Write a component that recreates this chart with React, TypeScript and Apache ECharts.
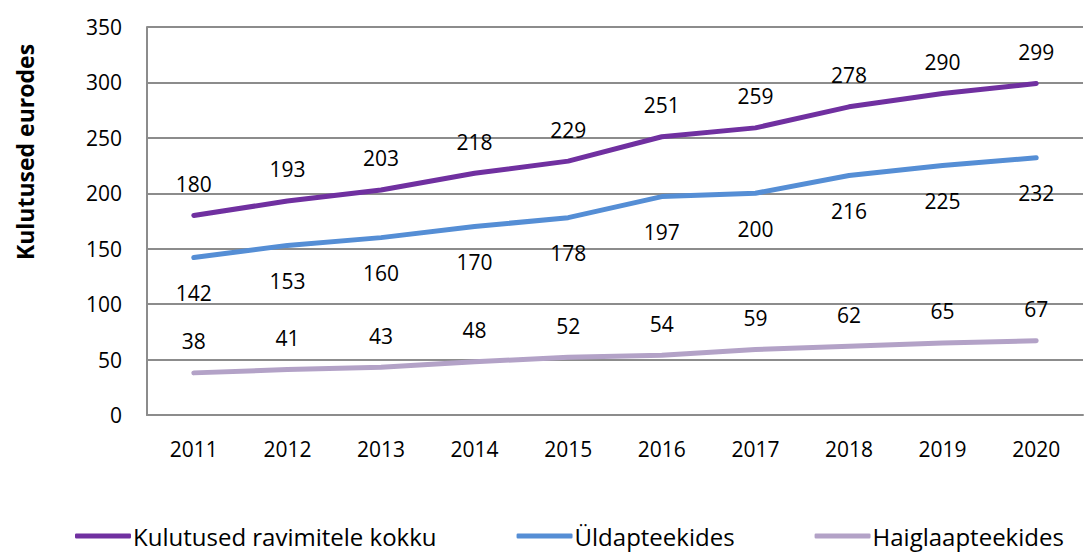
import React, { useEffect, useRef } from "react";
import * as echarts from "echarts";

const years = ["2011", "2012", "2013", "2014", "2015", "2016", "2017", "2018", "2019", "2020"];
const totalValues = [180, 193, 203, 218, 229, 251, 259, 278, 290, 299];
const generalValues = [142, 153, 160, 170, 178, 197, 200, 216, 225, 232];
const hospitalValues = [38, 41, 43, 48, 52, 54, 59, 62, 65, 67];
const seriesNames = ["Kulutused ravimitele kokku", "Üldapteekides", "Haiglaapteekides"];
const yTitle = "Kulutused eurodes";

const FONT = "Open Sans";

export default function App() {
  const ref = useRef<HTMLDivElement>(null);
  useEffect(() => {
    if (!ref.current) return;
    const chart = echarts.init(ref.current, undefined, { renderer: "svg" });
    const labelBase = { show: true, fontSize: 21, color: "#000", fontFamily: FONT };
    const mk = (name: string, data: number[], color: string, pos: string, dist: number, z: number) => ({
      name,
      type: "line",
      data,
      symbol: "circle",
      symbolSize: 0.1,
      showSymbol: true,
      lineStyle: { color, width: 5, cap: "round" },
      itemStyle: { color },
      label: { ...labelBase, position: pos, distance: dist },
      emphasis: { disabled: true },
      z,
    });
    chart.setOption({
      animation: false,
      textStyle: { fontFamily: FONT },
      grid: { left: 147, right: 2, top: 27, bottom: 137 },
      legend: {
        left: 70,
        top: 517,
        itemGap: 80,
        itemWidth: 56,
        itemHeight: 5,
        icon: "roundRect",
        textStyle: { fontSize: 24, lineHeight: 28, color: "#000", fontFamily: FONT, padding: [0, 0, 0, -3] },
        data: seriesNames,
      },
      graphic: [
        {
          type: "text",
          x: 25,
          y: 152,
          rotation: Math.PI / 2,
          style: {
            text: yTitle,
            fontSize: 23,
            fontWeight: "bold",
            fontFamily: FONT,
            fill: "#000",
            align: "center",
            verticalAlign: "middle",
          },
        },
      ],
      xAxis: {
        type: "category",
        data: years,
        boundaryGap: true,
        axisLine: { show: true, lineStyle: { color: "#8c8c8c", width: 2 } },
        axisTick: { show: false },
        axisLabel: { fontSize: 21, color: "#000", margin: 23, fontFamily: FONT },
      },
      yAxis: {
        type: "value",
        min: 0,
        max: 350,
        interval: 50,
        axisLine: { show: true, lineStyle: { color: "#8c8c8c", width: 2 } },
        axisTick: { show: false },
        splitLine: { show: true, lineStyle: { color: "#8c8c8c", width: 2 } },
        axisLabel: { fontSize: 21, color: "#000", margin: 25, fontFamily: FONT },
      },
      series: [
        mk(seriesNames[0], totalValues, "#7030A0", "top", 21, 3),
        mk(seriesNames[1], generalValues, "#558ED5", "bottom", 25, 2),
        mk(seriesNames[2], hospitalValues, "#B3A2C7", "top", 21, 1),
      ],
    });
    return () => chart.dispose();
  }, []);
  return (
    <div
      ref={ref}
      style={{ position: "fixed", left: 0, top: 0, width: 1085, height: 552, background: "#fff" }}
    />
  );
}
